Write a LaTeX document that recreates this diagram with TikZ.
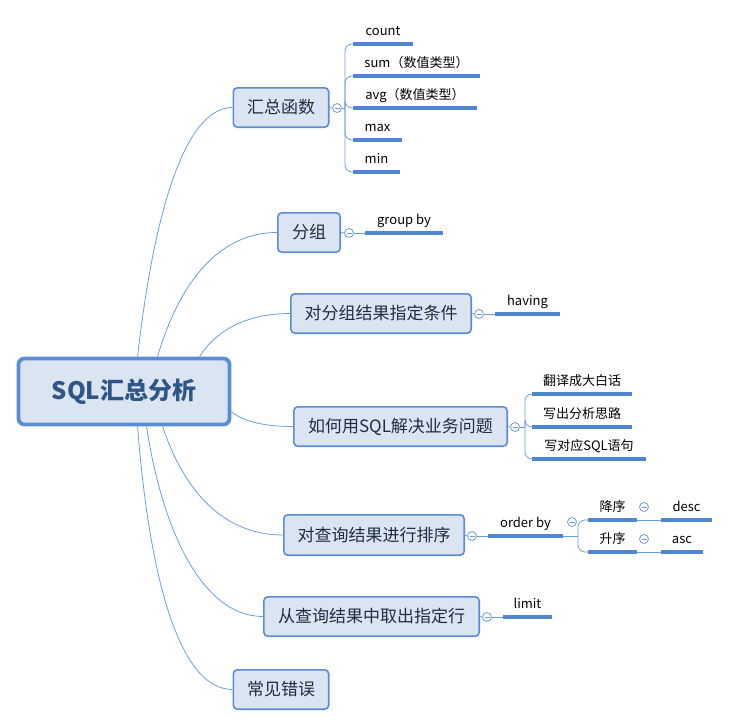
\documentclass[tikz,border=0pt]{standalone}
\usepackage{fontspec}
\setmainfont{Noto Sans CJK SC}
\definecolor{bdr}{HTML}{5A8DD5}
\definecolor{bfill}{HTML}{DBE5F2}
\definecolor{btxt}{HTML}{1E2D44}
\definecolor{rtxt}{HTML}{2D5587}
\definecolor{uln}{HTML}{4F86D0}
\definecolor{cln}{HTML}{6E9CDA}
\begin{document}
\begin{tikzpicture}[x=1pt,y=-1pt,
  branch/.style={draw=bdr, fill=bfill, line width=1.6pt, rounded corners=4pt, inner sep=0pt, minimum height=39.4pt, text=btxt, font=\fontsize{17}{20}\selectfont},
  leaf/.style={anchor=south, inner xsep=0pt, inner ysep=5.5pt, text height=10pt, text depth=3pt, font=\fontsize{13}{15}\selectfont},
  uline/.style={draw=uln, line width=3.2pt},
  conn/.style={draw=cln, line width=0.8pt},
  collapse/.style={circle, draw=cln, fill=white, line width=0.8pt, minimum size=9pt, inner sep=0pt,
    path picture={\draw[cln,line width=0.8pt] ([xshift=2pt]path picture bounding box.west) -- ([xshift=-2pt]path picture bounding box.east);}}
]
\useasboundingbox (0,0) rectangle (729,728);

% root
\node[draw=bdr, fill=bfill, line width=3.8pt, rounded corners=6pt, minimum width=211pt, minimum height=66pt, inner sep=0pt, text=rtxt, font=\bfseries\fontsize{24}{29}\selectfont] (root) at (124,391.5) {SQL汇总分析};

% branches
\node[branch, minimum width=95.4pt] (b1) at (281,107.5) {汇总函数};
\node[branch, minimum width=62.4pt] (b2) at (309,232.5) {分组};
\node[branch, minimum width=180.4pt] (b3) at (381,313.5) {对分组结果指定条件};
\node[branch, minimum width=213.4pt] (b4) at (400.5,426.5) {如何用SQL解决业务问题};
\node[branch, minimum width=180.4pt, minimum height=40.4pt] (b5) at (374,535) {对查询结果进行排序};
\node[branch, minimum width=215.4pt] (b6) at (371.5,616.5) {从查询结果中取出指定行};
\node[branch, minimum width=95.4pt] (b7) at (281,689.5) {常见错误};

% root connectors
\draw[conn] ([xshift=121pt]root.north west) .. controls +(14,-125) and +(-52,0) .. (b1.west);
\draw[conn] ([xshift=141pt]root.north west) .. controls +(18,-62) and +(-65,0) .. (b2.west);
\draw[conn] ([xshift=183pt]root.north west) .. controls +(13,-21) and +(-50,0) .. (b3.west);
\draw[conn] ([yshift=-20pt]root.east) .. controls +(9,8) and +(-34,0) .. (b4.west);
\draw[conn] ([xshift=146pt]root.south west) .. controls +(18,55) and +(-66,0) .. (b5.west);
\draw[conn] ([xshift=130pt]root.south west) .. controls +(14,95) and +(-64,0) .. (b6.west);
\draw[conn] ([xshift=121pt]root.south west) .. controls +(10,131) and +(-58,0) .. (b7.west);

% collapse buttons
\node[collapse] (c1) at (337,108) {};
\node[collapse] (c2) at (349,233) {};
\node[collapse] (c3) at (479,314) {};
\node[collapse] (c4) at (515,427) {};
\node[collapse] (c5) at (472,536) {};
\node[collapse] (c6) at (487,617) {};
\node[collapse] (co) at (572,522) {};
\node[collapse] (cd) at (644,507) {};
\node[collapse] (ca) at (644,539) {};

\foreach \b/\c in {b1/c1,b2/c2,b3/c3,b4/c4,b5/c5,b6/c6}
  \draw[conn] (\b.east) -- (\c.west);

% leaves of 汇总函数
\node[leaf, minimum width=60pt] (l1) at (383,44) {count};
\node[leaf, minimum width=127pt] (l2) at (416.5,76) {sum（数值类型）};
\node[leaf, minimum width=124pt] (l3) at (415,108) {avg（数值类型）};
\node[leaf, minimum width=49pt] (l4) at (377.5,140) {max};
\node[leaf, minimum width=47pt] (l5) at (376.5,172) {min};
\coordinate (j1) at (345,108);
\draw[conn] (c1.east) -- (j1);
\foreach \l in {l1,l2,l3,l4,l5} {
  \draw[conn, rounded corners=7pt] (j1) |- (\l.south west);
  \draw[uline] (\l.south west) -- (\l.south east);
}

% group by
\node[leaf, minimum width=78pt] (g) at (404,233) {group by};
\draw[conn] (c2.east) -- (g.south west);
\draw[uline] (g.south west) -- (g.south east);

% having
\node[leaf, minimum width=65pt] (h) at (527.5,314) {having};
\draw[conn] (c3.east) -- (h.south west);
\draw[uline] (h.south west) -- (h.south east);

% 如何用 leaves
\node[leaf, minimum width=100pt] (q1) at (582,394) {翻译成大白话};
\node[leaf, minimum width=100pt] (q2) at (582,427) {写出分析思路};
\node[leaf, minimum width=114pt] (q3) at (589,459) {写对应SQL语句};
\coordinate (j4) at (525,427);
\draw[conn] (c4.east) -- (j4);
\foreach \l in {q1,q2,q3} {
  \draw[conn, rounded corners=7pt] (j4) |- (\l.south west);
  \draw[uline] (\l.south west) -- (\l.south east);
}

% order by
\node[leaf, minimum width=75pt] (o) at (525.5,536) {order by};
\draw[conn] (c5.east) -- (o.south west);
\draw[uline] (o.south west) -- (o.south east);
\node[leaf, minimum width=49pt] (d1) at (612.5,520) {降序};
\node[leaf, minimum width=51pt] (d2) at (686.5,520) {desc};
\node[leaf, minimum width=49pt] (a1) at (612.5,552) {升序};
\node[leaf, minimum width=42pt] (a2) at (682,552) {asc};
\coordinate (jo) at (578,536);
\draw[conn] (o.south east) -- (jo);
\draw[conn, rounded corners=7pt] (jo) |- (d1.south west);
\draw[conn, rounded corners=7pt] (jo) |- (a1.south west);
\draw[conn] (d1.south east) -- (d2.south west);
\draw[conn] (a1.south east) -- (a2.south west);
\foreach \l in {d1,d2,a1,a2}
  \draw[uline] (\l.south west) -- (\l.south east);

% limit
\node[leaf, minimum width=49pt] (lim) at (527.5,617) {limit};
\draw[conn] (c6.east) -- (lim.south west);
\draw[uline] (lim.south west) -- (lim.south east);
\end{tikzpicture}
\end{document}
